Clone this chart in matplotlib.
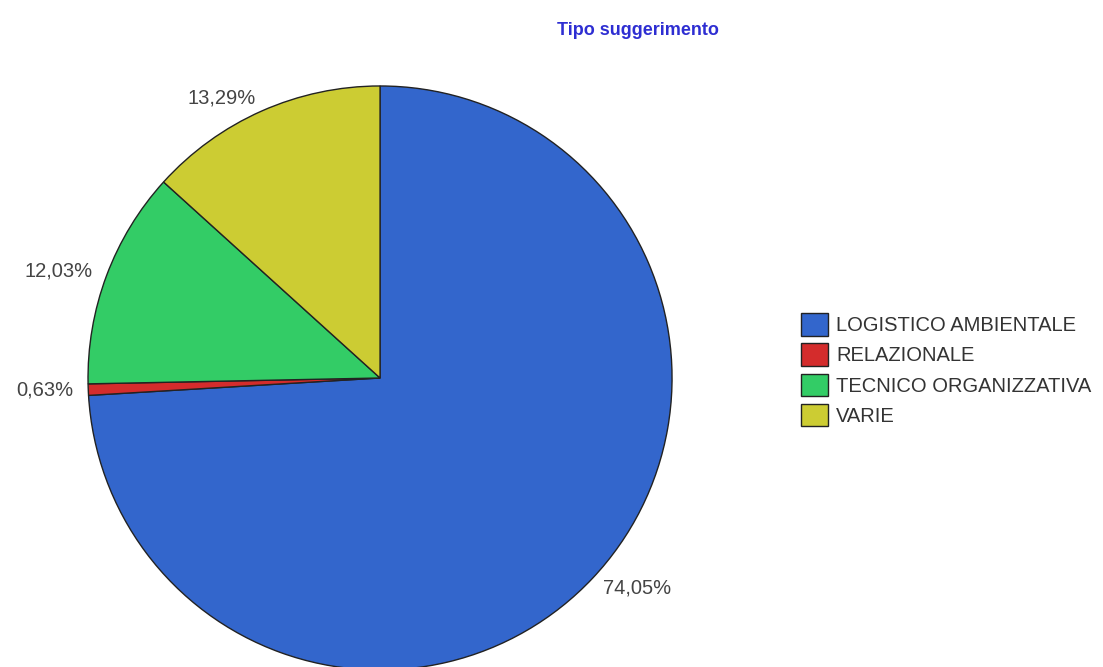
import numpy as np
import matplotlib
matplotlib.use('Agg')
import matplotlib.pyplot as plt

plt.rcParams['font.family'] = ['Liberation Sans', 'DejaVu Sans']

# dati
categorie = ['LOGISTICO AMBIENTALE', 'RELAZIONALE', 'TECNICO ORGANIZZATIVA', 'VARIE']
percentuali = [74.05, 0.63, 12.03, 13.29]
colori = ['#3366CC', '#D42C2C', '#33CC66', '#CCCC33']

fig = plt.figure(figsize=(11.03, 6.67), dpi=100)
fig.patch.set_facecolor('white')

# asse della torta
ax = fig.add_axes([0.0798, -0.0045, 0.5295, 0.8756])

wedges, texts = ax.pie(
    percentuali, colors=colori, startangle=90, counterclock=False,
    wedgeprops={'edgecolor': '#222222', 'linewidth': 1.0})

# etichette percentuali fuori dalla torta
for w, p in zip(wedges, percentuali):
    ang = np.deg2rad((w.theta1 + w.theta2) / 2)
    x, y = 1.05 * np.cos(ang), 1.05 * np.sin(ang)
    ha = 'left' if x > 0 else 'right'
    ax.text(x, y, ('%.2f%%' % p).replace('.', ','), ha=ha, va='center',
            fontsize=14.5, color='#444444')

ax.set_xlim(-1.0, 1.0)
ax.set_ylim(-1.0, 1.0)
ax.set_aspect('equal')

fig.text(0.578, 0.955, 'Tipo suggerimento', ha='center', va='center',
         fontsize=13, fontweight='bold', color='#2E2ED2')

leg = fig.legend(wedges, categorie, loc='upper left',
                 bbox_to_anchor=(801 / 1103, 1 - 313 / 667), frameon=False,
                 borderaxespad=0, borderpad=0,
                 fontsize=14.5, handlelength=1.35, handleheight=1.35,
                 handletextpad=0.4, labelspacing=0.38, labelcolor='#333333')

fig.savefig('out.png', dpi=100)
